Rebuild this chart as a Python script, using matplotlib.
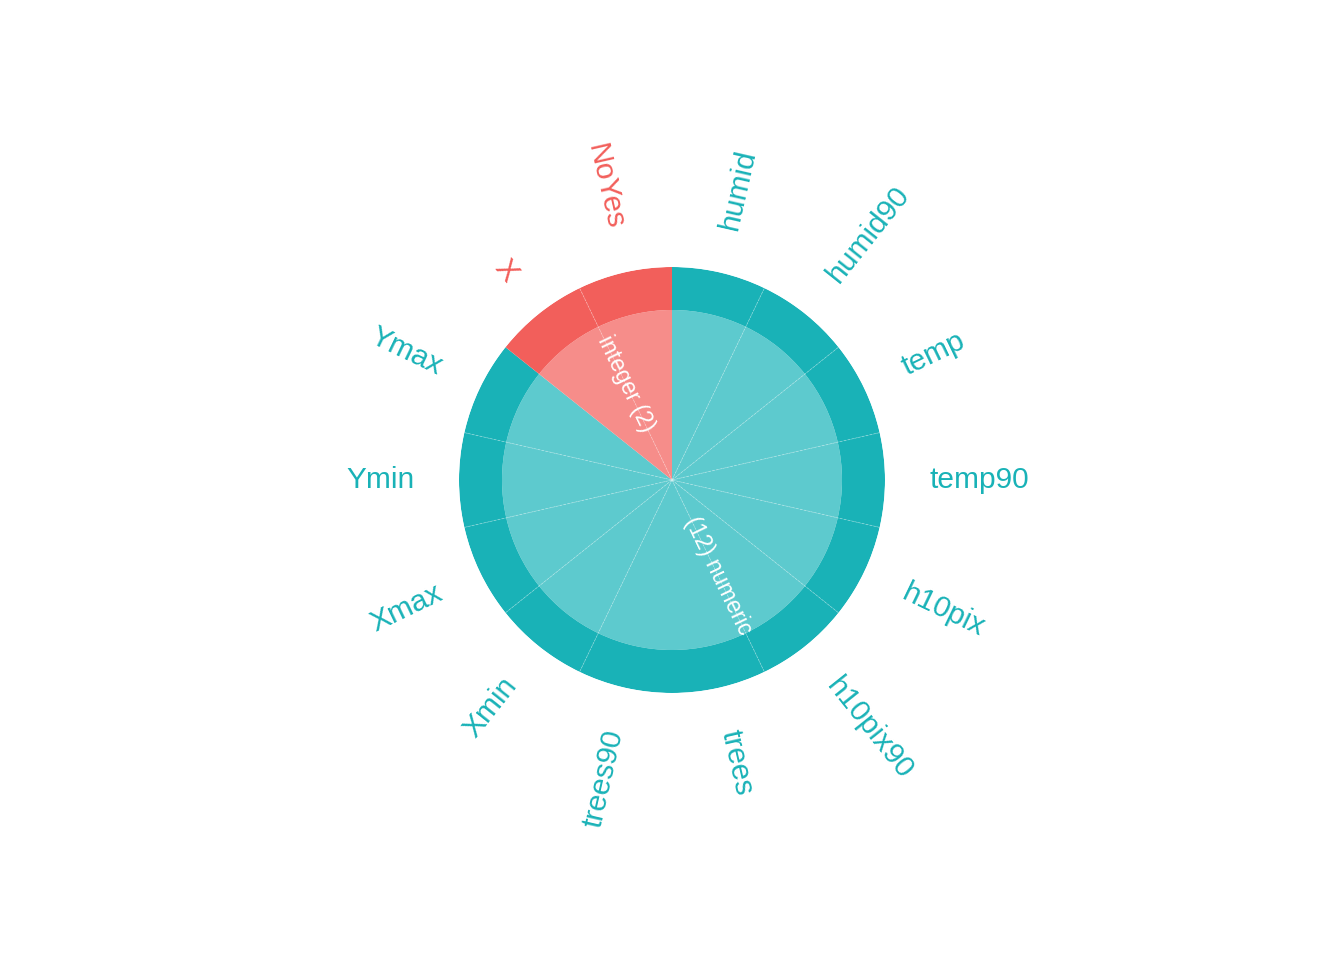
import numpy as np
import matplotlib
matplotlib.use('Agg')
import matplotlib.pyplot as plt

# variables in clockwise order starting at 12 o'clock
variables = ['humid', 'humid90', 'temp', 'temp90', 'h10pix', 'h10pix90', 'trees',
             'trees90', 'Xmin', 'Xmax', 'Ymin', 'Ymax', 'X', 'NoYes']
var_types = ['numeric'] * 12 + ['integer'] * 2
type_labels = ['(12) numeric', 'integer (2)']
type_names = ['numeric', 'integer']

outer_col = {'numeric': '#19B2B7', 'integer': '#F25F5B'}
inner_col = {'numeric': '#5DCACE', 'integer': '#F68D8A'}

plt.rcParams['font.family'] = ['Liberation Sans', 'DejaVu Sans']

fig = plt.figure(figsize=(13.44, 9.6), dpi=100, facecolor='white')
size = 426 / 1344.
ax = fig.add_axes([0.5 - size / 2, 0.5 - (426 / 960.) / 2, size, 426 / 960.], projection='polar')
ax.set_theta_zero_location('N')
ax.set_theta_direction(-1)

n = len(variables)
width = 2 * np.pi / n
theta = np.arange(n) * width + width / 2
r_in = 170 / 213.

# inner pie (one wedge per variable, coloured by type)
ax.bar(theta, [r_in] * n, width=width, bottom=0,
       color=[inner_col[t] for t in var_types], edgecolor='none', linewidth=0)
# outer ring
ax.bar(theta, [1 - r_in] * n, width=width, bottom=r_in,
       color=[outer_col[t] for t in var_types], edgecolor='none', linewidth=0)

# faint separators between variables of the same type
for i in range(1, n):
    if var_types[i] != var_types[i - 1] or i * 2 == n:
        continue
    b = i * width
    ax.plot([b, b], [0, 1], color='white', alpha=0.3, lw=0.6, ls=(0, (3, 1.5)))

ax.set_ylim(0, 1)
ax.set_axis_off()

# outer labels
for th, name, t in zip(theta, variables, var_types):
    m = (90 - np.degrees(th) + 180) % 360 - 180
    if -90 <= m <= 90:
        rot, ha = m, 'left'
    else:
        rot, ha = m - 180 if m > 0 else m + 180, 'right'
    ax.text(th, 1.207, name, rotation=rot, rotation_mode='anchor', ha=ha, va='center',
            color=outer_col[t], fontsize=21.5, clip_on=False)

# inner type labels
for name, lab in zip(type_names, type_labels):
    idx = [i for i, t in enumerate(var_types) if t == name]
    mid = (idx[0] + idx[-1] + 1) / 2 * width
    m = (90 - np.degrees(mid) + 180) % 360 - 180
    if -90 <= m <= 90:
        rot = m
    else:
        rot = m - 180 if m > 0 else m + 180
    ax.text(mid, 0.5, lab, rotation=rot, rotation_mode='anchor', ha='center', va='center',
            color='white', fontsize=16.5)

fig.savefig('out.png', dpi=100, facecolor='white')
